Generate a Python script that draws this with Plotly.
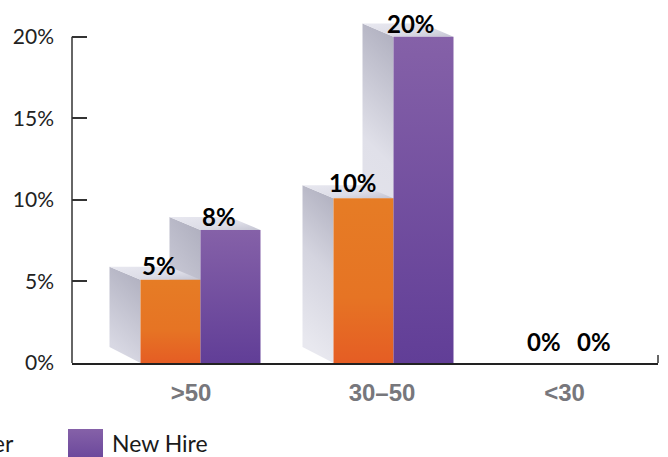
import json
import plotly.graph_objects as go

# ---- data ----
categories = [">50", "30–50", "<30"]
series_names = ["Leaver", "New Hire"]
leaver_values = [5.1, 10.1, 0]
newhire_values = [8.15, 20, 0]
leaver_labels = ["5%", "10%", "0%"]
newhire_labels = ["8%", "20%", "0%"]
y_ticks = [0, 5, 10, 15, 20]
y_tick_labels = ["0%", "5%", "10%", "15%", "20%"]

# ---- layout constants (pixels) ----
W, H = 668, 457
LEFT, RIGHT, BASE, PER_PCT = 72, 658, 363, 16.3
GROUP0, GROUP_STEP = 200.5, 193
BAR_PX = 60
DEPTH_X, DEPTH_Y, DEPTH_Y_BOTTOM = 31, 13, 16
TICK_SHIFT = [-9.5, -11.5, -22]
label_shift_leaver = [(-12, 14), (-11, 16), (-13, 22)]
label_shift_newhire = [(-12, 14), (-13, 13), (-23, 22)]

px_x = 1 / GROUP_STEP
px_y = 1 / PER_PCT
x_min = (LEFT - GROUP0) * px_x
x_max = (RIGHT - GROUP0) * px_x
y_top = 22
top_margin = BASE - y_top * PER_PCT
positions = list(range(len(categories)))
half = BAR_PX * px_x / 2

fig = go.Figure()
fig.add_bar(x=positions, y=leaver_values, name=series_names[0], marker_color="#E67524", marker_line_width=0)
fig.add_bar(x=positions, y=newhire_values, name=series_names[1], marker_color="#7350A0", marker_line_width=0)

shapes, fills = [], []


def face(points, colour):
    path = "M" + " L".join(f"{a:.5f},{b:.5f}" for a, b in points) + " Z"
    shapes.append(dict(type="path", path=path, xref="x", yref="y", layer="below",
                       fillcolor=colour, line_width=0))


dx = DEPTH_X * px_x
dy = DEPTH_Y * px_y
dyb = DEPTH_Y_BOTTOM * px_y
for values, l_off, r_off in ((newhire_values, 0, 2 * half), (leaver_values, -2 * half, 0)):
    for p, v in zip(positions, values):
        if v <= 0:
            continue
        l, r = p + l_off, p + r_off
        face([(l - dx, v + dy), (l, v), (l, 0), (l - dx, dyb)], "#CFCFDB")
        fills.append("sideTall" if v > 15 else ("sideMid" if v > 9 else "side"))
        face([(l - dx, v + dy), (r - dx, v + dy), (r, v), (l, v)], "#D8D8E3")
        fills.append("top")

axis_colour = "#333333"
shapes.append(dict(type="line", xref="paper", yref="y", x0=0, x1=0, y0=0, y1=y_ticks[-1],
                   line=dict(color=axis_colour, width=1.5)))
fills.append(None)
shapes.append(dict(type="line", xref="paper", yref="y", x0=1, x1=1, y0=0, y1=8 * px_y,
                   line=dict(color=axis_colour, width=1.5)))
fills.append(None)
# legend swatch
paper_x = lambda px: (px - LEFT) / (RIGHT - LEFT)
paper_y = lambda px: (BASE - px) / (BASE - top_margin)
shapes.append(dict(type="rect", xref="paper", yref="paper", x0=paper_x(68), x1=paper_x(103),
                   y0=paper_y(470), y1=paper_y(429), fillcolor="#7350A0", line_width=0,
                   layer="above"))
fills.append("purple")

annotations = []
for p, labels, vals, shifts, off in ((positions, leaver_labels, leaver_values, label_shift_leaver, -half),
                                     (positions, newhire_labels, newhire_values, label_shift_newhire, half)):
    for i, t in enumerate(labels):
        annotations.append(dict(x=p[i] + off, y=vals[i], xref="x", yref="y", text=f"<b>{t}</b>",
                                showarrow=False, xanchor="center", yanchor="middle",
                                xshift=shifts[i][0], yshift=shifts[i][1],
                                font=dict(family="Lato", size=24, color="#000000")))
annotations.append(dict(x=paper_x(16), y=paper_y(443), xref="paper", yref="paper", text=series_names[0],
                        showarrow=False, xanchor="right", yanchor="middle", xshift=0,
                        font=dict(family="Lato", size=23, color="#1a1a1a")))
annotations.append(dict(x=paper_x(110), y=paper_y(443), xref="paper", yref="paper", text=series_names[1],
                        showarrow=False, xanchor="left", yanchor="middle",
                        font=dict(family="Lato", size=23, color="#1a1a1a")))

fig.update_layout(
    width=W, height=H, autosize=False, showlegend=False,
    paper_bgcolor="white", plot_bgcolor="white",
    margin=dict(l=LEFT, r=W - RIGHT, t=top_margin, b=H - BASE, pad=0),
    barmode="group", bargap=1 - 2 * BAR_PX / GROUP_STEP, bargroupgap=0,
    shapes=shapes, annotations=annotations,
    xaxis=dict(range=[x_min, x_max], tickmode="array",
               tickvals=[p + s * px_x for p, s in zip(positions, TICK_SHIFT)],
               ticktext=categories, showgrid=False, zeroline=False, showline=True,
               linecolor="#222222", linewidth=2, ticks="", ticklabelstandoff=7,
               tickfont=dict(family="Liberation Sans", size=24, color="#77777C", weight="bold")),
    yaxis=dict(range=[0, y_top], tickmode="array", tickvals=y_ticks, ticktext=y_tick_labels,
               showgrid=False, zeroline=False, showline=False, ticks="inside", ticklen=15,
               tickwidth=1.5, tickcolor=axis_colour, ticklabelstandoff=17,
               tickfont=dict(family="Lato", size=21, color="#222222")),
)

post_script = """
document.body.style.margin = '0';
(function () {
  var fills = %s;
  var NS = 'http://www.w3.org/2000/svg';
  var svg = document.querySelector('.main-svg');
  var defs = document.createElementNS(NS, 'defs');
  function grad(id, x1, y1, x2, y2, stops) {
    var g = document.createElementNS(NS, 'linearGradient');
    g.setAttribute('id', id);
    g.setAttribute('x1', x1); g.setAttribute('y1', y1);
    g.setAttribute('x2', x2); g.setAttribute('y2', y2);
    stops.forEach(function (s) {
      var e = document.createElementNS(NS, 'stop');
      e.setAttribute('offset', s[0]); e.setAttribute('stop-color', s[1]);
      g.appendChild(e);
    });
    defs.appendChild(g);
  }
  grad('side', 1, 0, 0.7, 1, [[0, '#ADADBD'], [1, '#D8D8E3']]);
  grad('sideMid', 1, 0, 0.83, 1, [[0, '#ADADBD'], [0.5, '#D4D4DF'], [1, '#E8E8EF']]);
  grad('sideTall', 1, 0, 0.91, 1, [[0, '#ADADBD'], [0.42, '#E0E0E9'], [1, '#E8E8EF']]);
  grad('top', 0, 0, 1, 1, [[0, '#E8E8F0'], [0.6, '#DDDDE7'], [1, '#C4C4D2']]);
  grad('orange', 0, 0, 0, 1, [[0, '#E67C25'], [0.6, '#E67424'], [1, '#E55D24']]);
  grad('purple', 0, 0, 0, 1, [[0, '#8561A8'], [1, '#613E97']]);
  svg.insertBefore(defs, svg.firstChild);
  document.querySelectorAll('.shapelayer path[data-index]').forEach(function (el) {
    var f = fills[+el.getAttribute('data-index')];
    if (f) { el.style.fill = 'url(#' + f + ')'; el.style.fillOpacity = 1; }
  });
  document.querySelectorAll('.barlayer .trace').forEach(function (t, i) {
    var id = i === 0 ? 'orange' : 'purple';
    t.querySelectorAll('path').forEach(function (p) { p.style.fill = 'url(#' + id + ')'; });
  });
})();
""" % json.dumps(fills)

fig.write_html("out.html", post_script=post_script, config={"displayModeBar": False})
